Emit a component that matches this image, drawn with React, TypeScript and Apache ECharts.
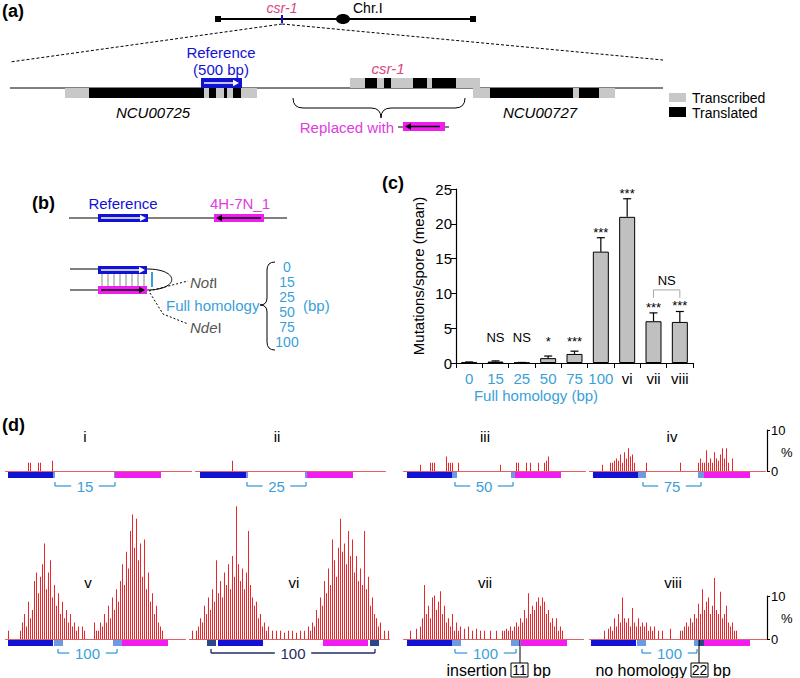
import React, { useEffect, useRef } from 'react';
import * as echarts from 'echarts';

// ---------------- DATA ----------------
// Panel (c)
const categories = ['0', '15', '25', '50', '75', '100', 'vi', 'vii', 'viii'];
const meanValues = [0.1, 0.2, 0.05, 0.7, 1.3, 16, 21, 6, 5.9];
const semValues = [0.05, 0.1, 0.03, 0.3, 0.4, 2.0, 2.6, 1.2, 1.5];
const sigLabels = ['', 'NS', 'NS', '*', '***', '***', '***', '***', '***'];
const nsBracket = [7, 8, 10.5];

// Panel (d) mutation profiles (% per position bin)
const histI: [number, number][] = [[11, 2], [12, 2], [16, 2], [17, 2], [23, 2.5]];
const histII: [number, number][] = [[18, 2.5]];
const histIII: [number, number][] = [
  [8, 1.5], [13, 2], [14, 2], [15, 2], [21, 3.5], [22, 2], [23, 2], [24, 2], [27, 2],
  [48, 1.5], [56, 2], [57, 2], [61, 2], [63, 2], [67, 2], [70, 2], [71, 2.5], [72, 3.5],
];
const histIV: [number, number][] = [
  [6, 1.5], [10, 2], [11, 2], [12, 2.5], [13, 3], [14, 2.5], [15, 4], [16, 2], [17, 4.5],
  [18, 3], [19, 5.5], [20, 3.5], [21, 4], [22, 2], [28, 2], [45, 2], [54, 2], [55, 3],
  [56, 2], [57, 2], [58, 5], [59, 2], [60, 3], [61, 2], [62, 4.5], [63, 3], [64, 2.5],
  [65, 4], [66, 5.5], [67, 3], [68, 5.5], [69, 2], [71, 3],
];
const histV = [
  0, 2, 0, 0, 0, 0, 0, 2, 4, 6, 3, 9, 5, 7, 14, 16, 11, 15, 18, 23,
  12, 16, 19, 10, 13, 8, 11, 6, 9, 5, 7, 4, 6, 3, 4, 2, 3, 0, 3, 2,
  0, 0, 0, 0, 4, 2, 2, 4, 3, 6, 4, 8, 5, 10, 7, 12, 9, 14, 18, 13,
  21, 17, 26, 30, 22, 29, 19, 23, 15, 24, 12, 16, 9, 11, 6, 8, 4, 3, 2, 0,
  0, 0, 0, 0, 0, 0, 0, 0, 0, 0,
];
const histVI = [
  0, 2, 0, 2, 3, 5, 4, 8, 6, 10, 7, 12, 9, 19, 11, 14, 10, 16, 13, 18,
  12, 20, 15, 32, 18, 14, 17, 12, 16, 26, 13, 10, 8, 9, 5, 6, 3, 4, 2, 3,
  0, 2, 0, 2, 0, 2, 0, 1.5, 0, 2, 0, 2, 0, 1.5, 0, 2, 0, 2, 0, 3,
  2, 4, 3, 7, 5, 10, 8, 14, 11, 17, 13, 24, 19, 15, 22, 29, 21, 23, 18, 26,
  20, 24, 16, 20, 14, 17, 13, 26, 12, 15, 8, 10, 6, 5, 3, 4, 0, 2, 0, 2,
];
const histVII = [
  0, 0, 0, 2, 0, 0, 2.5, 0, 3, 5, 13, 6, 8, 5, 10, 10.5, 7, 9, 11.5, 6,
  8, 4, 5, 3, 6, 2, 4, 2, 3, 0, 2.5, 0, 3, 0, 2, 0, 2.5, 0, 2, 0,
  2, 0, 0, 2, 0, 0, 2, 0, 0, 2, 2, 2.5, 2, 3, 2, 3, 4, 3, 5, 4,
  7, 5, 11, 6, 8, 7, 9, 10, 8, 10, 9, 6, 7, 4, 5, 3, 5, 2, 3, 2,
  0, 0, 0, 0, 0, 0, 0, 0, 0, 0,
];
const histVIII = [
  0, 0, 0, 0, 0, 0, 0, 2, 0, 2.5, 3, 2, 5, 3, 6, 4, 10, 5, 4, 5,
  3, 7.5, 4, 3, 5, 3, 4, 3, 4, 2, 3, 2, 3, 0, 2, 0, 2, 0, 0, 0,
  2.5, 0, 0, 0, 0, 2, 2, 3, 4, 3, 5, 4, 6, 5, 8.5, 6, 12, 7, 9, 10,
  6, 8, 14.7, 7, 6, 11.4, 5, 6, 8, 4, 3, 4, 2, 2, 0, 0, 0, 0, 0, 0,
  0, 0, 0, 0, 0, 0, 0, 0, 0,
];
const romanLabels = ['i', 'ii', 'iii', 'iv', 'v', 'vi', 'vii', 'viii'];
const homologyLabels = ['15', '25', '50', '75', '100', '100', '100', '100'];
const homologyList = ['0', '15', '25', '50', '75', '100'];
const scaleTicks = [0, 10];

// ---------------- LAYOUT / STYLE ----------------
const FONT = '"Liberation Sans", Arial, Helvetica, sans-serif';
const BLUE = '#1212d4';
const MAG = '#f01cf0';
const MAGTXT = '#e03ce0';
const LBLUE = '#3a9fd8';
const BOXLB = '#6e9ae2';
const NAVY = '#2a4787';
const NAVYTXT = '#1e2c66';
const PINK = '#d9467e';
const GRAY = '#c8c8c8';
const HIST_RED = '#e8262b';

// lefts chosen so that every 1px bar starts on an even pixel column
const histLeft = [5.5, 195.5, 403.5, 589.5, 5.5, 189.5, 403.5, 589.5];
const histWidth = [186, 190, 182, 176, 180, 200, 180, 178];
const PX_PER_PCT = 4.15;

function densify(n: number, pairs: [number, number][]) {
  const arr = new Array(n).fill(0);
  pairs.forEach(([i, v]) => { arr[i] = v; });
  return arr;
}

function txt(x: number, y: number, text: string, o: any = {}) {
  return {
    type: 'text', silent: true,
    style: {
      text, x, y, fill: o.fill || '#000',
      font: `${o.fs || 'normal'} ${o.fw || 'normal'} ${o.size || 15}px ${FONT}`,
      align: o.align || 'left', textAlign: o.align || 'left',
      verticalAlign: o.va || 'middle', textVerticalAlign: o.va || 'middle',
      rich: o.rich,
    },
  };
}
function rect(x: number, y: number, w: number, h: number, fill: string, extra: any = {}) {
  return { type: 'rect', silent: true, shape: { x, y, width: w, height: h }, style: { fill, ...extra } };
}
function ln(x1: number, y1: number, x2: number, y2: number, stroke = '#000', lw = 1, dash?: number[]) {
  return { type: 'line', silent: true, shape: { x1, y1, x2, y2 }, style: { stroke, lineWidth: lw, lineDash: dash } };
}
function arrow(x1: number, x2: number, y: number, color: string) {
  const d = x2 > x1 ? 1 : -1;
  return [
    ln(x1, y, x2 - d * 4, y, color, 1.5),
    { type: 'polygon', silent: true, shape: { points: [[x2, y], [x2 - d * 6, y - 3.2], [x2 - d * 6, y + 3.2]] }, style: { fill: color } },
  ];
}
function bracket(x1: number, x2: number, y: number, label: string, color: string, txtColor: string) {
  const cx = (x1 + x2) / 2;
  const half = label.length * 4.4 + 5;
  return [
    ln(x1, y - 4, x1, y, color, 1.3),
    ln(x1, y, cx - half, y, color, 1.3),
    ln(cx + half, y, x2, y, color, 1.3),
    ln(x2, y, x2, y - 4, color, 1.3),
    txt(cx, y + 0.5, label, { align: 'center', size: 15, fill: txtColor }),
  ];
}

const braceA = 'M293 98 Q293 108 303 108 L371 108 Q381 108 381 118 Q381 108 391 108 L455 108 Q465 108 465 98';
const braceB = 'M275 262 Q267 262 267 270 L267 298 Q267 305 260 305 Q267 305 267 312 L267 342 Q267 350 275 350';
echarts.graphic.registerShape('braceA', echarts.graphic.extendPath(braceA, {}));
echarts.graphic.registerShape('braceB', echarts.graphic.extendPath(braceB, {}));

function buildGraphics() {
  const g: any[] = [];
  // ---- Panel (a)
  g.push(txt(2, 11, '(a)', { fw: 'bold', size: 18 }));
  g.push(ln(218, 19, 473, 19, '#000', 2));
  g.push(rect(215, 16, 6, 6, '#000'), rect(470, 16, 6, 6, '#000'));
  g.push({ type: 'ellipse', silent: true, shape: { cx: 343, cy: 19, rx: 7, ry: 5 }, style: { fill: '#000' } });
  g.push(txt(353, 8, 'Chr.I', { size: 14 }));
  g.push(txt(282, 8, 'csr-1', { size: 14, fs: 'italic', fill: PINK, align: 'center' }));
  g.push(ln(282, 15, 282, 23, BLUE, 2));
  g.push(ln(282, 24, 10, 62, '#000', 1, [3, 2]), ln(282, 24, 663, 60, '#000', 1, [3, 2]));
  g.push(ln(10, 88, 663, 88, '#000', 1));
  g.push(rect(65, 88, 192, 10, GRAY), rect(89, 88, 115, 10, '#000'), rect(209, 88, 7, 10, '#000'),
    rect(224, 88, 3, 10, '#000'), rect(233, 88, 8, 10, '#000'));
  g.push(rect(201, 78, 41, 10, BLUE));
  g.push(...arrow(204, 239, 83, '#fff'));
  g.push(txt(221, 52, 'Reference', { fill: BLUE, align: 'center' }));
  g.push(txt(221, 69, '(500 bp)', { fill: BLUE, align: 'center' }));
  g.push(rect(350, 78, 130, 10, GRAY), rect(365, 78, 12, 10, '#000'), rect(384, 78, 7, 10, '#000'),
    rect(413, 78, 14, 10, '#000'), rect(432, 78, 24, 10, '#000'));
  g.push(txt(388, 68, 'csr-1', { fs: 'italic', fill: PINK, align: 'center' }));
  g.push(rect(473, 88, 142, 10, GRAY), rect(490, 88, 83, 10, '#000'), rect(579, 88, 20, 10, '#000'));
  g.push(txt(153, 112, 'NCU00725', { fs: 'italic', align: 'center' }));
  g.push(txt(540, 112, 'NCU00727', { fs: 'italic', align: 'center' }));
  g.push({ type: 'braceA', silent: true, style: { stroke: '#000', fill: null, lineWidth: 1 } });
  g.push(txt(394, 127, 'Replaced with', { fill: MAGTXT, align: 'right' }));
  g.push(ln(398, 127, 449, 127, '#000', 1));
  g.push(rect(403, 122, 42, 9, MAG));
  g.push(...arrow(440, 405, 126.5, '#000'));
  g.push(rect(669, 93, 17, 9, GRAY), txt(692, 97.5, 'Transcribed', { size: 14 }));
  g.push(rect(669, 107, 17, 10, '#000'), txt(692, 112.5, 'Translated', { size: 14 }));

  // ---- Panel (b)
  g.push(txt(32, 203, '(b)', { fw: 'bold', size: 18 }));
  g.push(ln(69, 218, 287, 218, '#000', 1));
  g.push(rect(98, 214, 50, 8, BLUE), ...arrow(101, 146, 218, '#fff'));
  g.push(txt(123, 203, 'Reference', { fill: BLUE, align: 'center' }));
  g.push(rect(214, 214, 50, 8, MAG), ...arrow(261, 216, 218, '#000'));
  g.push(txt(240, 203, '4H-7N_1', { fill: MAGTXT, align: 'center' }));
  g.push(ln(70, 269, 98, 269, '#000', 1), ln(70, 290, 98, 290, '#000', 1));
  for (let k = 0; k < 8; k++) g.push(ln(102 + 6 * k, 274, 102 + 6 * k, 286, '#888', 1));
  g.push(rect(98, 266, 49, 8, BLUE), ...arrow(101, 145, 270, '#fff'));
  g.push(rect(98, 286, 49, 8, MAG), ...arrow(101, 145, 290, '#000'));
  g.push({ type: 'bezierCurve', silent: true, shape: { x1: 147, y1: 269, cpx1: 180, cpy1: 269, cpx2: 180, cpy2: 290, x2: 147, y2: 290 }, style: { stroke: '#000', fill: null, lineWidth: 1 } });
  g.push(ln(152, 272, 152, 287, LBLUE, 2));
  g.push({ type: 'polyline', silent: true, shape: { points: [[149, 291], [188, 281]] }, style: { stroke: '#000', lineWidth: 1, lineDash: [2, 2], fill: null } });
  g.push({ type: 'polyline', silent: true, shape: { points: [[150, 293], [163, 314], [188, 324]] }, style: { stroke: '#000', lineWidth: 1, lineDash: [2, 2], fill: null } });
  const rich = { i: { fontStyle: 'italic', fontSize: 15, fontFamily: FONT, fill: '#555' } };
  g.push(txt(190, 282, '{i|Not}I', { fill: '#555', rich }));
  g.push(txt(190, 327, '{i|Nde}I', { fill: '#555', rich }));
  g.push(txt(166, 305, 'Full homology', { fill: LBLUE }));
  g.push({ type: 'braceB', silent: true, style: { stroke: '#000', fill: null, lineWidth: 1 } });
  homologyList.forEach((h, i) => g.push(txt(287, 267 + 15 * i, h, { size: 14, fill: LBLUE, align: 'center' })));
  g.push(txt(303, 305, '(bp)', { fill: LBLUE }));

  // ---- Panel (c)
  g.push(txt(382, 183, '(c)', { fw: 'bold', size: 18 }));
  g.push(txt(536, 395, 'Full homology (bp)', { fill: LBLUE, align: 'center' }));

  // ---- Panel (d)
  g.push(txt(2, 425, '(d)', { fw: 'bold', size: 18 }));
  const romanX = [85, 277, 485, 672, 88, 294, 485, 673];
  romanLabels.forEach((r, i) => g.push(txt(romanX[i], i < 4 ? 436 : 582, r, { align: 'center' })));
  // boxes under profiles
  const T = 472, B = 640, H = 6;
  g.push(rect(8, T, 45, H, BLUE), rect(53, T, 2, H, BOXLB), rect(114, T, 1, H, BOXLB), rect(115, T, 46, H, MAG));
  g.push(rect(200, T, 46, H, BLUE), rect(246, T, 2, H, BOXLB), rect(305, T, 2, H, BOXLB), rect(307, T, 46, H, MAG));
  g.push(rect(407, T, 45, H, BLUE), rect(452, T, 5, H, BOXLB), rect(511, T, 4, H, BOXLB), rect(515, T, 46, H, MAG));
  g.push(rect(593, T, 45, H, BLUE), rect(638, T, 8, H, BOXLB), rect(698, T, 6, H, BOXLB), rect(704, T, 46, H, MAG));
  g.push(rect(8, B, 45, H, BLUE), rect(54, B, 9, H, BOXLB), rect(113, B, 9, H, BOXLB), rect(122, B, 46, H, MAG));
  g.push(rect(207, B, 9, H, NAVY), rect(218, B, 45, H, BLUE), rect(323, B, 45, H, MAG), rect(370, B, 9, H, NAVY));
  g.push(rect(407, B, 45, H, BLUE), rect(452, B, 9, H, BOXLB), rect(511, B, 9, H, BOXLB), rect(521, B, 46, H, MAG));
  g.push(rect(591, B, 45, H, BLUE), rect(637, B, 9, H, BOXLB), rect(694, B, 5, H, BOXLB), rect(699, B, 5, H, NAVY), rect(704, B, 46, H, MAG));
  const brX = [[55, 115], [247, 306], [455, 513], [643, 701], [58, 117], [211, 375], [455, 516], [642, 697]];
  brX.forEach((b, i) => {
    const y = i < 4 ? 486 : 653;
    const col = i === 5 ? NAVYTXT : LBLUE;
    g.push(...bracket(b[0], b[1], y, homologyLabels[i], col, col));
  });
  // annotations for vii and viii
  g.push(ln(520, 640, 520, 663, '#000', 1));
  g.push(txt(507, 670, 'insertion', { size: 16, align: 'right' }));
  g.push(rect(511, 663, 17, 14, 'none', { stroke: '#000', lineWidth: 1 }));
  g.push(txt(519.5, 670, '11', { size: 14, align: 'center' }));
  g.push(txt(533, 670, 'bp', { size: 16 }));
  g.push(ln(699, 640, 699, 663, '#000', 1));
  g.push(txt(687, 670, 'no homology', { size: 16, align: 'right' }));
  g.push(rect(691, 663, 17, 14, 'none', { stroke: '#000', lineWidth: 1 }));
  g.push(txt(699.5, 670, '22', { size: 14, align: 'center' }));
  g.push(txt(713, 670, 'bp', { size: 16 }));
  g.push(txt(781, 452, '%', { size: 13 }), txt(781, 618, '%', { size: 13 }));
  return g;
}

export default function App() {
  const ref = useRef<HTMLDivElement>(null);
  useEffect(() => {
    document.body.style.margin = '0';
    const chart = echarts.init(ref.current!, undefined, { renderer: 'svg' });
    const histData = [
      densify(93, histI), densify(95, histII), densify(91, histIII), densify(88, histIV),
      histV, histVI, histVII, histVIII,
    ];
    const grids: any[] = [{ left: 456, right: 107, top: 189, bottom: 315 }];
    const xAxes: any[] = [{
      type: 'category', gridIndex: 0, data: categories,
      axisLine: { lineStyle: { color: '#000', width: 1.2 } },
      axisTick: { show: true, length: 5, interval: 0, lineStyle: { color: '#000' } },
      axisLabel: {
        interval: 0, margin: 8, fontSize: 15, fontFamily: FONT,
        color: (v: string) => (isNaN(Number(v)) ? '#000' : LBLUE),
      },
    }];
    const yAxes: any[] = [{
      type: 'value', gridIndex: 0, min: 0, max: 25, interval: 5,
      name: 'Mutations/spore (mean)', nameLocation: 'middle', nameGap: 30,
      nameTextStyle: { fontSize: 15, fontFamily: FONT, color: '#000' },
      axisLine: { show: true, lineStyle: { color: '#000', width: 1.2 } },
      axisTick: { show: true, length: 5, lineStyle: { color: '#000' } },
      axisLabel: { fontSize: 15, fontFamily: FONT, color: '#000', margin: 4 },
      splitLine: { show: false },
    }];
    const series: any[] = [
      {
        type: 'bar', xAxisIndex: 0, yAxisIndex: 0, data: meanValues, barWidth: 16,
        itemStyle: { color: '#c0c0c0', borderColor: '#000', borderWidth: 1 }, silent: true,
      },
      {
        type: 'custom', xAxisIndex: 0, yAxisIndex: 0, silent: true, z: 5,
        data: categories.map((c, i) => [i, meanValues[i], semValues[i]]),
        renderItem: (params: any, api: any) => {
          const i = api.value(0); const m = api.value(1); const e = api.value(2);
          const b = api.coord([i, m]); const t = api.coord([i, m + e]);
          const lab = sigLabels[i];
          const low = api.coord([i, 2.3])[1];
          const ly = lab === 'NS' ? Math.min(t[1], low) - 3 : Math.min(t[1], low) + 1;
          const children: any[] = [
            { type: 'line', shape: { x1: b[0], y1: b[1], x2: t[0], y2: t[1] }, style: { stroke: '#000', lineWidth: 1.2 } },
            { type: 'line', shape: { x1: t[0] - 4, y1: t[1], x2: t[0] + 4, y2: t[1] }, style: { stroke: '#000', lineWidth: 1.2 } },
          ];
          if (lab) {
            children.push({ type: 'text', style: { text: lab, x: t[0], y: ly, align: 'center', textAlign: 'center', verticalAlign: 'bottom', textVerticalAlign: 'bottom', font: `13px ${FONT}`, fill: '#000' } });
          }
          return { type: 'group', children };
        },
      },
      {
        type: 'custom', xAxisIndex: 0, yAxisIndex: 0, silent: true, z: 5,
        data: [nsBracket],
        renderItem: (params: any, api: any) => {
          const p1 = api.coord([api.value(0), api.value(2)]);
          const p2 = api.coord([api.value(1), api.value(2)]);
          const c = '#a8a8a8';
          return {
            type: 'group', children: [
              { type: 'polyline', shape: { points: [[p1[0], p1[1] + 8], [p1[0], p1[1]], [p2[0], p2[1]], [p2[0], p2[1] + 8]] }, style: { stroke: c, lineWidth: 1, fill: null } },
              { type: 'text', style: { text: 'NS', x: (p1[0] + p2[0]) / 2, y: p1[1] - 3, align: 'center', textAlign: 'center', verticalAlign: 'bottom', textVerticalAlign: 'bottom', font: `13px ${FONT}`, fill: '#000' } },
            ],
          };
        },
      },
    ];
    histData.forEach((d, k) => {
      const top = k < 4;
      const maxPct = top ? 8 : 35;
      const baseY = top ? 471 : 639;
      const h = maxPct * PX_PER_PCT;
      grids.push({ left: histLeft[k], width: histWidth[k], bottom: 678 - baseY, height: h });
      const gi = grids.length - 1;
      xAxes.push({
        type: 'category', gridIndex: gi, data: d.map((_: number, i: number) => String(i)),
        axisLine: { show: true, lineStyle: { color: '#e46060', width: 1 } },
        axisTick: { show: false }, axisLabel: { show: false },
      });
      yAxes.push({ type: 'value', gridIndex: gi, min: 0, max: maxPct, show: false, splitLine: { show: false } });
      series.push({
        type: 'bar', xAxisIndex: gi, yAxisIndex: gi, barWidth: 1, silent: true,
        data: d, itemStyle: { color: HIST_RED },
      });
    });
    // scale bars
    [[430, 471], [596, 639]].forEach(([t, b]) => {
      grids.push({ left: 767, width: 1, top: t, height: b - t });
      const gi = grids.length - 1;
      xAxes.push({ type: 'value', gridIndex: gi, show: false });
      yAxes.push({
        type: 'value', gridIndex: gi, position: 'right', min: scaleTicks[0], max: scaleTicks[1], interval: 10,
        axisLine: { show: true, lineStyle: { color: '#000', width: 1.2 } },
        axisTick: { show: true, length: 3, lineStyle: { color: '#000' } },
        axisLabel: { fontSize: 13, fontFamily: FONT, color: '#000', margin: 3 },
        splitLine: { show: false },
      });
    });

    chart.setOption({
      animation: false,
      backgroundColor: '#fff',
      grid: grids, xAxis: xAxes, yAxis: yAxes, series,
      graphic: buildGraphics(),
    });
    return () => chart.dispose();
  }, []);
  return <div ref={ref} style={{ width: 800, height: 678 }} />;
}
